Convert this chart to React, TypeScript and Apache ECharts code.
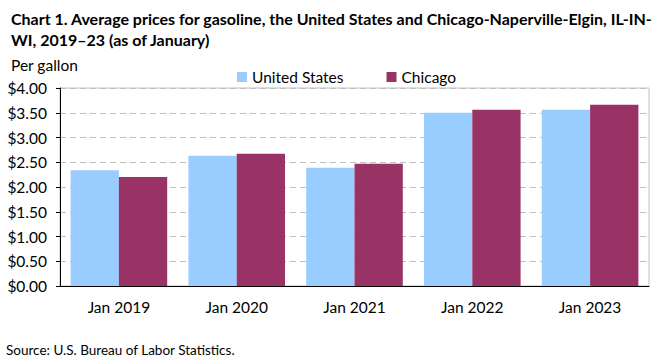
import React, { useEffect, useRef } from "react";
import * as echarts from "echarts";

const categories = ["Jan 2019", "Jan 2020", "Jan 2021", "Jan 2022", "Jan 2023"];
const unitedStates = [2.34, 2.63, 2.39, 3.5, 3.56];
const chicago = [2.2, 2.67, 2.47, 3.56, 3.66];
const yTicks = { min: 0, max: 4, interval: 0.5 };

const FONT = "Lato, 'Open Sans', sans-serif";

export default function App() {
  const ref = useRef<HTMLDivElement>(null);
  useEffect(() => {
    if (!ref.current) return;
    const chart = echarts.init(ref.current, null, { renderer: "svg" });
    chart.setOption({
      animation: false,
      backgroundColor: "#fff",
      textStyle: { fontFamily: FONT },
      title: [
        {
          text: "Chart 1. Average prices for gasoline, the United States and Chicago-Naperville-Elgin, IL-IN-\nWI, 2019\u201323 (as of January)",
          left: 6,
          top: 3,
          textStyle: { fontFamily: FONT, fontWeight: "bold", fontSize: 16, lineHeight: 21, color: "#000" },
        },
        {
          text: "Per gallon",
          left: 6,
          top: 52,
          textStyle: { fontFamily: FONT, fontWeight: "normal", fontSize: 15.5, color: "#000" },
        },
        {
          text: "Source: U.S. Bureau of Labor Statistics.",
          left: 6,
          top: 342,
          padding: 0,
          textStyle: { fontFamily: FONT, fontWeight: "normal", fontSize: 13.5, lineHeight: 16, color: "#000" },
        },
      ],
      legend: {
        left: 232,
        top: 64,
        itemWidth: 10,
        itemHeight: 10,
        itemGap: 43,
        icon: "rect",
        textStyle: { fontFamily: FONT, fontSize: 15.5, color: "#000" },
        data: ["United States", "Chicago"],
      },
      grid: {
        left: 60,
        right: 12,
        top: 88,
        bottom: 75,
        show: true,
        borderColor: "#bfbfbf",
        borderWidth: 1,
      },
      xAxis: {
        type: "category",
        data: categories,
        axisLine: { lineStyle: { color: "#000", width: 1 } },
        axisTick: { show: false },
        axisLabel: { fontFamily: FONT, fontSize: 15.5, color: "#000", margin: 13 },
      },
      yAxis: {
        type: "value",
        min: yTicks.min,
        max: yTicks.max,
        interval: yTicks.interval,
        axisLine: { show: true, lineStyle: { color: "#000", width: 1 } },
        axisTick: { show: true, length: 4, lineStyle: { color: "#000" } },
        axisLabel: {
          fontFamily: FONT,
          fontSize: 15.5,
          color: "#000",
          margin: 13,
          formatter: (v: number) => "$" + v.toFixed(2),
        },
        splitLine: { show: true, lineStyle: { color: "#bfbfbf", type: [6, 4], width: 1 } },
      },
      series: [
        {
          name: "United States",
          type: "bar",
          data: unitedStates,
          itemStyle: { color: "#99ccff" },
          barGap: "0%",
          barCategoryGap: "18%",
        },
        {
          name: "Chicago",
          type: "bar",
          data: chicago,
          itemStyle: { color: "#993366" },
          barGap: "0%",
          barCategoryGap: "18%",
        },
      ],
    });
    return () => chart.dispose();
  }, []);
  return <div ref={ref} style={{ width: 661, height: 361, position: "absolute", left: 0, top: 0 }} />;
}
